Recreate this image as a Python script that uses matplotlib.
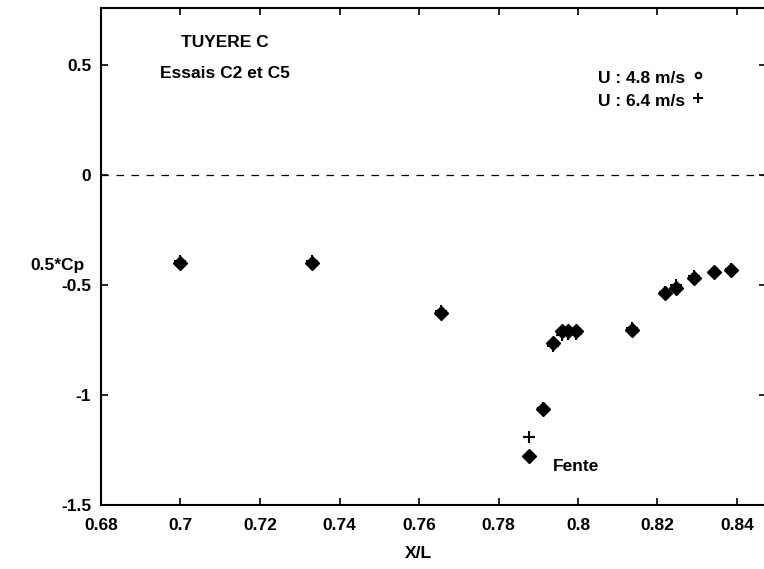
import numpy as np
import matplotlib
matplotlib.use("Agg")
import matplotlib.pyplot as plt

plt.rcParams['font.family'] = ['Liberation Sans', 'DejaVu Sans']
plt.rcParams['font.weight'] = 'bold'

# pressure distribution along the nozzle, two flow speeds
xl_48 = [0.700, 0.733, 0.7655, 0.7937, 0.7960, 0.7975, 0.7995, 0.7912, 0.7877,
         0.8136, 0.8219, 0.8246, 0.8292, 0.8342, 0.8385]
cp_48 = [-0.400, -0.400, -0.627, -0.764, -0.709, -0.709, -0.709, -1.064, -1.277,
         -0.705, -0.536, -0.514, -0.468, -0.441, -0.432]

xl_64 = [0.700, 0.733, 0.7655, 0.7937, 0.7960, 0.7975, 0.7995, 0.7912, 0.7877,
         0.8136, 0.8219, 0.8246, 0.8292, 0.8342, 0.8385]
cp_64 = [-0.390, -0.390, -0.620, -0.775, -0.725, -0.722, -0.722, -1.060, -1.190,
         -0.695, -0.530, -0.500, -0.458, -0.440, -0.428]

xticks = [0.68, 0.70, 0.72, 0.74, 0.76, 0.78, 0.80, 0.82, 0.84]
xtick_labels = ['0.68', '0.7', '0.72', '0.74', '0.76', '0.78', '0.8', '0.82', '0.84']
yticks = [0.5, 0, -0.5, -1, -1.5]
ytick_labels = ['0.5', '0', '-0.5', '-1', '-1.5']

fs = 12.5

fig = plt.figure(figsize=(7.64, 5.69), dpi=100)
ax = fig.add_axes([101/764, 64/569, 665/764, 497/569])

ax.axhline(0, color='black', lw=0.9, ls=(0, (6, 6)))
ax.plot(xl_48, cp_48, ls='none', marker='D', ms=7, color='black')
ax.plot(xl_64, cp_64, ls='none', marker='+', ms=8, mew=1.5, color='black')

ax.set_xlim(0.68, 0.68 + 665/3975)
ax.set_ylim(-1.5, -1.5 + 497/220)
ax.set_xticks(xticks)
ax.set_xticklabels(xtick_labels)
ax.set_yticks(yticks)
ax.set_yticklabels(ytick_labels)
ax.tick_params(direction='in', length=5, width=1.2, top=True, right=True,
               labelsize=fs)
ax.tick_params(axis='x', pad=9)
ax.tick_params(axis='y', pad=7)
for s in ax.spines.values():
    s.set_linewidth(1.5)

ax.text(0.1865, 0.93, 'TUYERE C', transform=ax.transAxes, ha='center',
        va='center', fontsize=fs)
ax.text(0.1865, 0.869, 'Essais C2 et C5', transform=ax.transAxes, ha='center',
        va='center', fontsize=fs)

ax.text(0.879, 0.859, 'U : 4.8 m/s', transform=ax.transAxes, ha='right',
        va='center', fontsize=fs)
ax.text(0.879, 0.811, 'U : 6.4 m/s', transform=ax.transAxes, ha='right',
        va='center', fontsize=fs)
ax.plot([0.898], [0.866], transform=ax.transAxes, marker='o', ms=4, mfc='white',
        mec='black', mew=1.5, ls='none')
ax.plot([0.898], [0.818], transform=ax.transAxes, marker='+', ms=7, mew=1.5,
        color='black', ls='none')

ax.text(0.7937, -1.323, 'Fente', va='center', fontsize=fs)

fig.text(30/764, 1 - 265/569, '0.5*Cp', va='center', fontsize=fs, fontweight='bold')
fig.text(418/764, 1 - 553/569, 'X/L', ha='center', va='center', fontsize=fs)

fig.savefig('out.png', dpi=100)
